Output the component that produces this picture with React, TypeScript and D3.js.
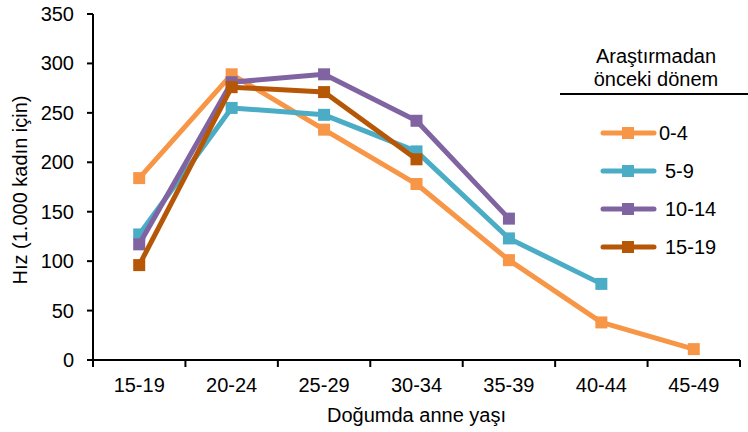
import React from "react";
import * as d3 from "d3";

const categories = ["15-19", "20-24", "25-29", "30-34", "35-39", "40-44", "45-49"];
const seriesNames = ["0-4", "5-9", "10-14", "15-19"];
const values0_4 = [184, 289, 233, 178, 101, 38, 11];
const values5_9 = [127, 255, 248, 211, 123, 77];
const values10_14 = [117, 281, 289, 242, 143];
const values15_19 = [96, 276, 271, 203];
const yTicks = [0, 50, 100, 150, 200, 250, 300, 350];
const colors = ["#F79646", "#4BACC6", "#8064A2", "#B65708"];

const W = 748;
const H = 432;
const FONT = "'Liberation Sans', Arial, sans-serif";
const FS = 20;

export default function App() {
  const x = d3.scaleBand<string>().domain(categories).range([93, 740]).paddingInner(0).paddingOuter(0);
  const y = d3.scaleLinear().domain([0, 350]).range([360, 14]);
  const cx = (c: string) => (x(c) as number) + x.bandwidth() / 2;
  const allSeries = [values0_4, values5_9, values10_14, values15_19];
  const line = d3
    .line<number>()
    .x((_, i) => cx(categories[i]))
    .y((d) => y(d));
  const ms = 12;
  const boundaries = categories.map((c) => x(c) as number).concat([740]);

  return (
    <svg
      width={W}
      height={H}
      style={{ position: "absolute", left: 0, top: 0, background: "#fff" }}
      fontFamily={FONT}
    >
      {/* Y axis */}
      <line x1={93} x2={93} y1={y(350)} y2={y(0)} stroke="#000" strokeWidth={2} />
      {yTicks.map((t) => (
        <g key={t}>
          <line x1={87} x2={93} y1={y(t)} y2={y(t)} stroke="#000" strokeWidth={2} />
          <text x={74} y={y(t)} dy="0.35em" textAnchor="end" fontSize={FS} fill="#000">
            {t}
          </text>
        </g>
      ))}
      {/* X axis */}
      <line x1={93} x2={740} y1={y(0)} y2={y(0)} stroke="#000" strokeWidth={2} />
      {boundaries.map((b, i) => (
        <line key={i} x1={b} x2={b} y1={y(0)} y2={y(0) + 7} stroke="#000" strokeWidth={2} />
      ))}
      {categories.map((c) => (
        <text key={c} x={cx(c)} y={392} textAnchor="middle" fontSize={FS} fill="#000">
          {c}
        </text>
      ))}
      <text x={(93 + 740) / 2} y={422} textAnchor="middle" fontSize={FS} fill="#000">
        Doğumda anne yaşı
      </text>
      <text
        transform={`translate(27, ${(y(0) + y(350)) / 2 + 3}) rotate(-90)`}
        textAnchor="middle"
        fontSize={FS}
        fill="#000"
      >
        Hız (1.000 kadın için)
      </text>

      {/* Series */}
      {allSeries.map((vals, si) => (
        <g key={si}>
          <path d={line(vals) || ""} fill="none" stroke={colors[si]} strokeWidth={5} strokeLinejoin="round" />
          {vals.map((v, i) => (
            <rect
              key={i}
              x={cx(categories[i]) - ms / 2}
              y={y(v) - ms / 2}
              width={ms}
              height={ms}
              fill={colors[si]}
            />
          ))}
        </g>
      ))}

      {/* Legend */}
      <text x={656} y={63} textAnchor="middle" fontSize={FS} fill="#000">
        Araştırmadan
      </text>
      <text x={656} y={86} textAnchor="middle" fontSize={FS} fill="#000">
        önceki dönem
      </text>
      <line x1={560} x2={748} y1={94} y2={94} stroke="#000" strokeWidth={2} />
      {seriesNames.map((n, i) => {
        const ly = 133 + i * 38;
        return (
          <g key={n}>
            <line x1={603} x2={654} y1={ly} y2={ly} stroke={colors[i]} strokeWidth={5} strokeLinecap="round" />
            <rect x={628 - ms / 2} y={ly - ms / 2} width={ms} height={ms} fill={colors[i]} />
            <text x={i === 0 ? 659 : 665} y={ly} dy="0.35em" fontSize={FS} fill="#000">
              {n}
            </text>
          </g>
        );
      })}
    </svg>
  );
}
